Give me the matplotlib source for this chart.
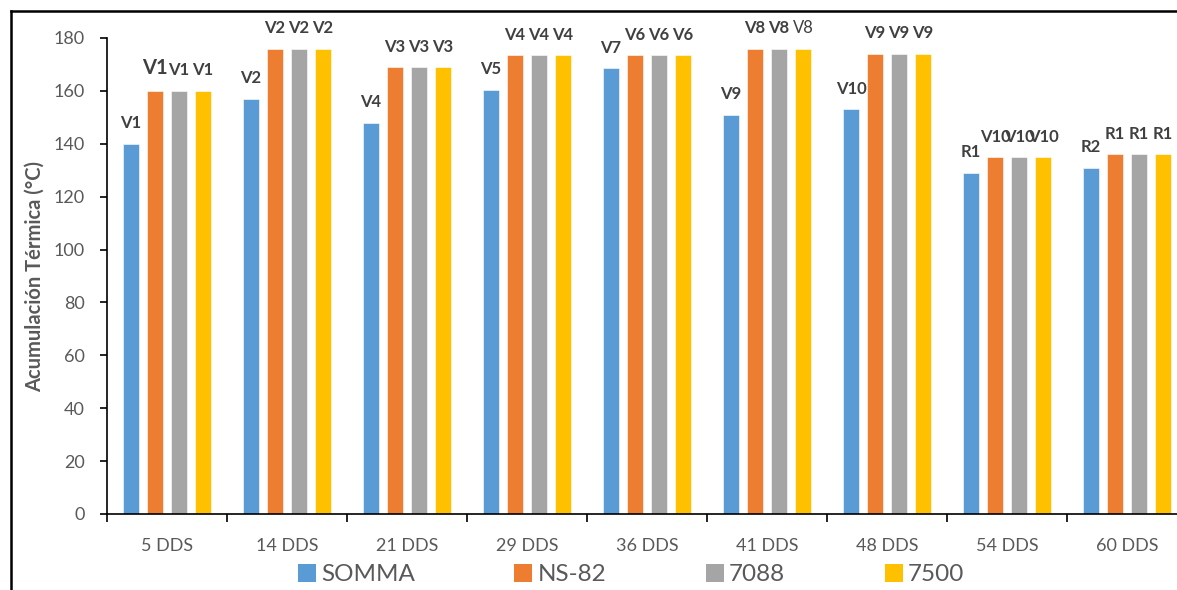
import numpy as np
import matplotlib.pyplot as plt
from matplotlib.lines import Line2D
from matplotlib.patches import Patch

plt.rcParams['font.family'] = ['Lato', 'DejaVu Sans']

categories = ['5 DDS', '14 DDS', '21 DDS', '29 DDS', '36 DDS', '41 DDS', '48 DDS', '54 DDS', '60 DDS']
series = ['SOMMA', 'NS-82', '7088', '7500']
somma = [140, 157, 148, 160.5, 168.5, 151, 153, 129, 131]
ns82 = [160, 176, 169, 173.5, 173.5, 176, 174, 135, 136]
h7088 = [160, 176, 169, 173.5, 173.5, 176, 174, 135, 136]
h7500 = [160, 176, 169, 173.5, 173.5, 176, 174, 135, 136]
lab_somma = ['V1', 'V2', 'V4', 'V5', 'V7', 'V9', 'V10', 'R1', 'R2']
lab_others = ['V1', 'V2', 'V3', 'V4', 'V6', 'V8', 'V9', 'V10', 'R1']

colors = ['#5B9BD5', '#ED7D31', '#A5A5A5', '#FFC000']
values = [somma, ns82, h7088, h7500]
labels = [lab_somma, lab_others, lab_others, lab_others]

fig = plt.figure(figsize=(11.77, 5.9), dpi=100)
ax = fig.add_axes([107 / 1177, 1 - 514 / 590, 1080 / 1177, 476 / 590])

x = np.arange(len(categories))
offsets = [-0.3, -0.1, 0.1, 0.3]
for i in range(4):
    ax.bar(x + offsets[i], values[i], width=0.135, color=colors[i],
           edgecolor='white', linewidth=0.4, label=series[i])
    for j in range(len(categories)):
        size = 12
        weight = 'bold'
        if i == 1 and j == 0:
            size = 14.5
        if i == 3 and j == 5:
            weight = 'normal'
        ax.annotate(labels[i][j], (x[j] + offsets[i], values[i][j]),
                    xytext=(0, 9), textcoords='offset points',
                    ha='center', va='bottom', fontsize=size,
                    fontweight=weight, color='#404040')

ax.set_xlim(-0.5, 8.5)
ax.set_ylim(0, 180)
ax.set_yticks(np.arange(0, 181, 20))
ax.set_xticks(np.arange(-0.5, 9, 1))
ax.set_xticklabels([])
ax.set_xticks(x, minor=True)
ax.set_xticklabels(categories, minor=True)
ax.tick_params(axis='x', which='minor', length=0, pad=17, labelsize=13, labelcolor='#595959')
ax.tick_params(axis='x', which='major', length=6, width=1.2, color='black')
ax.tick_params(axis='y', length=5, width=1.2, pad=11, labelsize=13, labelcolor='#595959')
for s in ['top', 'right']:
    ax.spines[s].set_visible(False)
ax.spines['left'].set_linewidth(1.2)
ax.spines['bottom'].set_linewidth(1.2)
ax.set_ylabel('Acumulación Térmica (°C)', fontsize=14.5, fontweight='bold',
              color='#595959', labelpad=6)

handles = [Patch(facecolor=c) for c in colors]
fig.legend(handles, series, loc='center', bbox_to_anchor=(0.536, 0.026), ncol=4,
           frameon=False, fontsize=17.5, handlelength=0.75, handleheight=0.75,
           handletextpad=0.2, columnspacing=4.1, labelcolor='#595959')

# outer frame (top and left edges visible)
fig.add_artist(Line2D([11 / 1177, 1], [1 - 11 / 590, 1 - 11 / 590], color='black', lw=1.8))
fig.add_artist(Line2D([11 / 1177, 11 / 1177], [0, 1 - 11 / 590], color='black', lw=1.8))

fig.savefig('out.png', dpi=100)
